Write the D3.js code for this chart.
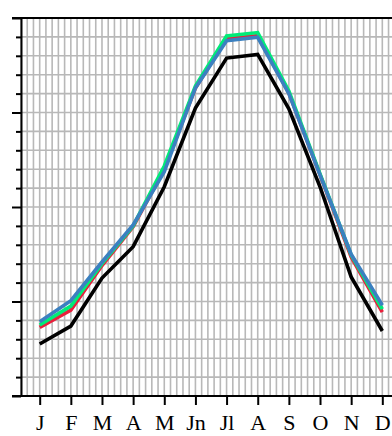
<!DOCTYPE html>
<html>
<head>
<meta charset="utf-8">
<script src="https://cdn.jsdelivr.net/npm/d3@7"></script>
<style>
  body { margin: 0; background: #fff; }
  svg { display: block; }
</style>
</head>
<body>
<div id="chart"></div>
<script>
// month labels and series values
const months = ["J", "F", "M", "A", "M", "Jn", "Jl", "A", "S", "O", "N", "D"];
const blackSeries = [2.75, 3.7, 6.24, 7.9, 11.07, 15.24, 17.88, 18.07, 15.19, 11.07, 6.3, 3.44];
const redSeries = [3.63, 4.55, 6.9, 8.95, 12.0, 16.3, 18.9, 19.06, 16.03, 11.7, 7.35, 4.44];
const greenSeries = [3.76, 4.76, 7.0, 9.0, 12.17, 16.4, 19.05, 19.23, 16.14, 11.75, 7.46, 4.6];
const blueSeries = [3.93, 5.04, 7.09, 9.05, 11.87, 16.3, 18.8, 18.98, 16.0, 11.7, 7.5, 4.8];

const width = 392, height = 436;
const margin = { top: 18, left: 21, bottom: 40 };

const svg = d3.select("#chart")
  .append("svg")
  .attr("width", width)
  .attr("height", height);

const x = d3.scaleLinear().domain([0.4, 12.6]).range([margin.left, 401]);
const y = d3.scaleLinear().domain([0, 20]).range([height - margin.bottom, margin.top]);

// grid
const vGrid = d3.range(0, 62).map(i => +(0.4 + i * 0.2).toFixed(2));
const hGrid = d3.range(1, 20);
svg.append("g")
  .selectAll("line")
  .data(vGrid)
  .join("line")
  .attr("x1", d => x(d)).attr("x2", d => x(d))
  .attr("y1", y(0)).attr("y2", y(20))
  .attr("stroke", "#b8b8b8")
  .attr("stroke-width", 1.6);
svg.append("g")
  .selectAll("line")
  .data(hGrid)
  .join("line")
  .attr("x1", x(0.4)).attr("x2", width)
  .attr("y1", d => y(d)).attr("y2", d => y(d))
  .attr("stroke", "#b8b8b8")
  .attr("stroke-width", 1.6);

// lines
const line = d3.line()
  .x((d, i) => x(i + 1))
  .y(d => y(d));

const series = [
  { values: blackSeries, color: "#000000" },
  { values: redSeries, color: "#e8203c" },
  { values: greenSeries, color: "#00ec78" },
  { values: blueSeries, color: "#3b80c0" }
];
series.forEach(s => {
  svg.append("path")
    .datum(s.values)
    .attr("fill", "none")
    .attr("stroke", s.color)
    .attr("stroke-width", 3.6)
    .attr("d", line);
});

// axes
const yAxis = d3.axisLeft(y)
  .tickValues(d3.range(0, 21))
  .tickFormat("")
  .tickSize(5)
  .tickSizeOuter(0);
const gy = svg.append("g")
  .attr("transform", `translate(${margin.left},0)`)
  .call(yAxis);
gy.selectAll(".tick line")
  .attr("x2", d => d % 5 === 0 ? -9 : -5)
  .attr("stroke-width", 2);
gy.select(".domain").attr("stroke-width", 2);

const xAxis = d3.axisBottom(x)
  .tickValues(d3.range(1, 13))
  .tickFormat(d => months[d - 1])
  .tickSize(9)
  .tickSizeOuter(0);
const gx = svg.append("g")
  .attr("transform", `translate(0,${y(0)})`)
  .call(xAxis);
gx.select(".domain").remove();
gx.selectAll(".tick line").attr("stroke-width", 2);
gx.selectAll(".tick text")
  .attr("dy", null)
  .attr("y", 34)
  .style("font-family", "'Liberation Serif', 'DejaVu Serif', serif")
  .style("font-size", "22px")
  .attr("fill", "#000");

// frame lines: bottom and top
svg.append("line")
  .attr("x1", x(0.4) - 9).attr("x2", width)
  .attr("y1", y(0)).attr("y2", y(0))
  .attr("stroke", "#000").attr("stroke-width", 2);
svg.append("line")
  .attr("x1", x(0.4) - 9).attr("x2", width)
  .attr("y1", y(20)).attr("y2", y(20))
  .attr("stroke", "#000").attr("stroke-width", 1.8);
</script>
</body>
</html>
